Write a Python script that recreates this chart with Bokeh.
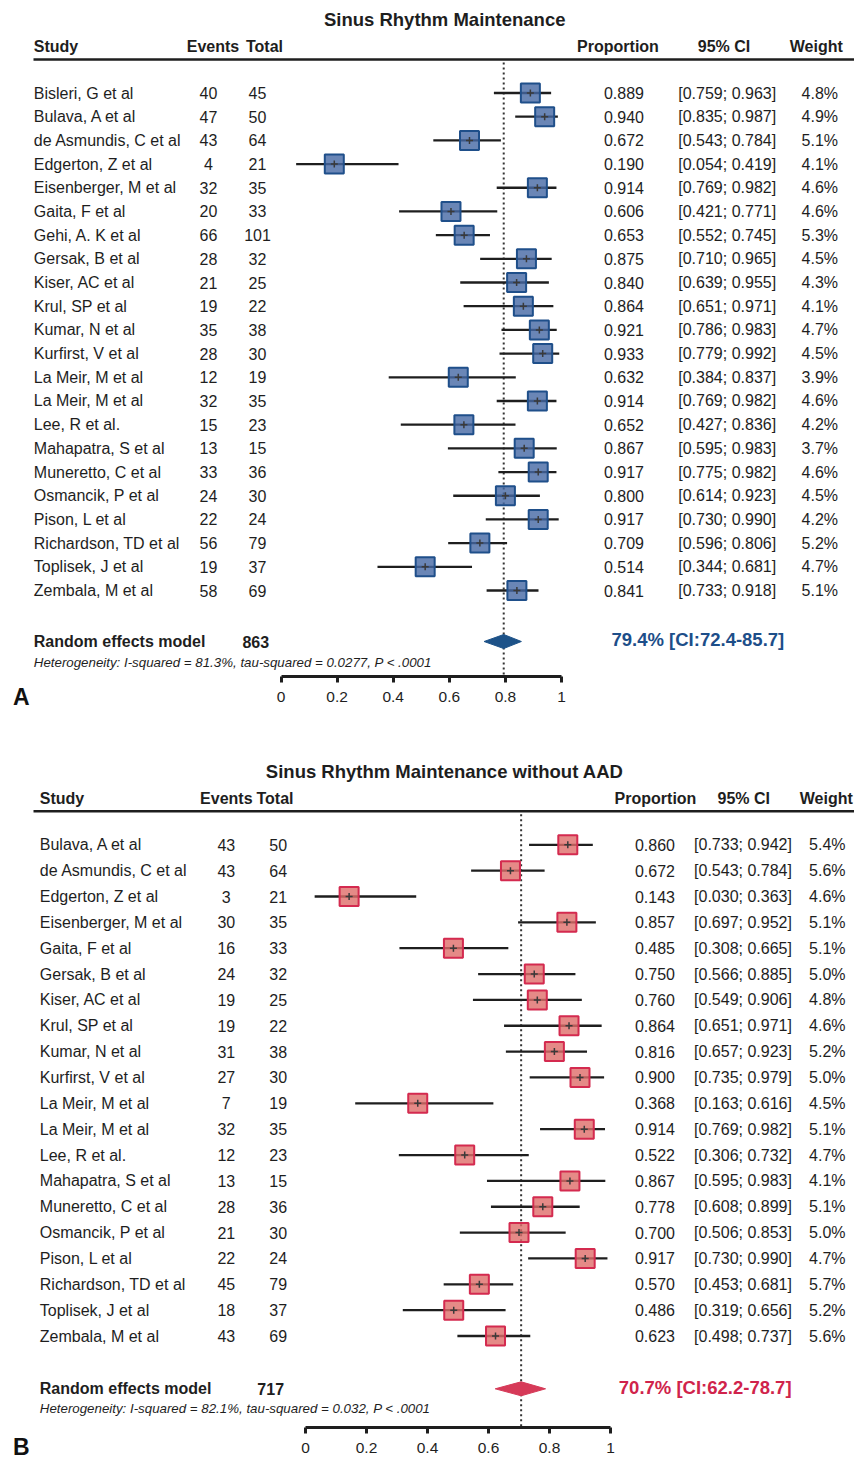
from bokeh.plotting import figure
from bokeh.models import Range1d, FixedTicker, Label
from bokeh.layouts import column
from bokeh.embed import file_html
from bokeh.resources import INLINE
from bokeh.core.properties import value

FONT = "Liberation Sans"
INK = "#1e1e1e"

# ---------------- Panel A data ----------------
title_a = "Sinus Rhythm Maintenance"
study_a = ["Bisleri, G et al", "Bulava, A et al", "de Asmundis, C et al", "Edgerton, Z et al",
           "Eisenberger, M et al", "Gaita, F et al", "Gehi, A. K et al", "Gersak, B et al",
           "Kiser, AC et al", "Krul, SP et al", "Kumar, N et al", "Kurfirst, V et al",
           "La Meir, M et al", "La Meir, M et al", "Lee, R et al.", "Mahapatra, S et al",
           "Muneretto, C et al", "Osmancik, P et al", "Pison, L et al", "Richardson, TD et al",
           "Toplisek, J et al", "Zembala, M et al"]
events_a = [40, 47, 43, 4, 32, 20, 66, 28, 21, 19, 35, 28, 12, 32, 15, 13, 33, 24, 22, 56, 19, 58]
total_a = [45, 50, 64, 21, 35, 33, 101, 32, 25, 22, 38, 30, 19, 35, 23, 15, 36, 30, 24, 79, 37, 69]
prop_a = [0.889, 0.940, 0.672, 0.190, 0.914, 0.606, 0.653, 0.875, 0.840, 0.864, 0.921, 0.933,
          0.632, 0.914, 0.652, 0.867, 0.917, 0.800, 0.917, 0.709, 0.514, 0.841]
lo_a = [0.759, 0.835, 0.543, 0.054, 0.769, 0.421, 0.552, 0.710, 0.639, 0.651, 0.786, 0.779,
        0.384, 0.769, 0.427, 0.595, 0.775, 0.614, 0.730, 0.596, 0.344, 0.733]
hi_a = [0.963, 0.987, 0.784, 0.419, 0.982, 0.771, 0.745, 0.965, 0.955, 0.971, 0.983, 0.992,
        0.837, 0.982, 0.836, 0.983, 0.982, 0.923, 0.990, 0.806, 0.681, 0.918]
weight_a = [4.8, 4.9, 5.1, 4.1, 4.6, 4.6, 5.3, 4.5, 4.3, 4.1, 4.7, 4.5, 3.9, 4.6, 4.2, 3.7,
            4.6, 4.5, 4.2, 5.2, 4.7, 5.1]
pooled_a = [0.794, 0.724, 0.857]
n_a = 863
summary_a = "79.4% [CI:72.4-85.7]"
het_a = "Heterogeneity: I-squared = 81.3%, tau-squared = 0.0277, P < .0001"

# ---------------- Panel B data ----------------
title_b = "Sinus Rhythm Maintenance without AAD"
study_b = ["Bulava, A et al", "de Asmundis, C et al", "Edgerton, Z et al", "Eisenberger, M et al",
           "Gaita, F et al", "Gersak, B et al", "Kiser, AC et al", "Krul, SP et al",
           "Kumar, N et al", "Kurfirst, V et al", "La Meir, M et al", "La Meir, M et al",
           "Lee, R et al.", "Mahapatra, S et al", "Muneretto, C et al", "Osmancik, P et al",
           "Pison, L et al", "Richardson, TD et al", "Toplisek, J et al", "Zembala, M et al"]
events_b = [43, 43, 3, 30, 16, 24, 19, 19, 31, 27, 7, 32, 12, 13, 28, 21, 22, 45, 18, 43]
total_b = [50, 64, 21, 35, 33, 32, 25, 22, 38, 30, 19, 35, 23, 15, 36, 30, 24, 79, 37, 69]
prop_b = [0.860, 0.672, 0.143, 0.857, 0.485, 0.750, 0.760, 0.864, 0.816, 0.900, 0.368, 0.914,
          0.522, 0.867, 0.778, 0.700, 0.917, 0.570, 0.486, 0.623]
lo_b = [0.733, 0.543, 0.030, 0.697, 0.308, 0.566, 0.549, 0.651, 0.657, 0.735, 0.163, 0.769,
        0.306, 0.595, 0.608, 0.506, 0.730, 0.453, 0.319, 0.498]
hi_b = [0.942, 0.784, 0.363, 0.952, 0.665, 0.885, 0.906, 0.971, 0.923, 0.979, 0.616, 0.982,
        0.732, 0.983, 0.899, 0.853, 0.990, 0.681, 0.656, 0.737]
weight_b = [5.4, 5.6, 4.6, 5.1, 5.1, 5.0, 4.8, 4.6, 5.2, 5.0, 4.5, 5.1, 4.7, 4.1, 5.1, 5.0,
            4.7, 5.7, 5.2, 5.6]
pooled_b = [0.707, 0.622, 0.787]
n_b = 717
summary_b = "70.7% [CI:62.2-78.7]"
het_b = "Heterogeneity: I-squared = 82.1%, tau-squared = 0.032, P < .0001"

tick_values = [0, 0.2, 0.4, 0.6, 0.8, 1]
tick_labels = ["0", "0.2", "0.4", "0.6", "0.8", "1"]

PAGE_W = 854
OFF = 0  # page offset of the figures


def build_panel(d, L):
    x0, x1 = L["x0"], L["x1"]
    s = x1 - x0
    r0, st = L["row0"], L["step"]

    def X(px):
        return (px - x0) / s

    def Y(py):
        return (py - r0) / st

    fig_h = L["fig_bottom"] - L["fig_top"]
    p = figure(width=PAGE_W, height=fig_h,
               x_range=Range1d(X(OFF), X(OFF + PAGE_W)),
               y_range=Range1d(Y(L["fig_bottom"]), Y(L["fig_top"])),
               output_backend="svg", toolbar_location=None,
               min_border_left=0, min_border_right=0, min_border_top=0,
               min_border_bottom=0,
               y_axis_location=None, outline_line_color=None,
               background_fill_color="white", border_fill_color="white")
    p.grid.visible = False

    def txt(xs, ys, texts, size, align, style="normal", color=INK):
        p.text(x=xs, y=ys, text=texts, text_font=value(FONT), text_font_size=size,
               text_align=align, text_baseline="middle", text_font_style=style,
               text_color=color)

    n = len(d["study"])
    ys = list(range(n))

    # title and headers
    txt([X(L["title_x"])], [Y(L["title_y"])], [d["title"]], "18.5px", "center", "bold")
    hy = Y(L["head_y"])
    txt([X(L["study_x"])], [hy], ["Study"], "16px", "left", "bold")
    txt([X(L["ev_head"])], [hy], ["Events"], "16px", "center", "bold")
    txt([X(L["tot_head"])], [hy], ["Total"], "16px", "center", "bold")
    txt([X(L["prop_head"])], [hy], ["Proportion"], "16px", "center", "bold")
    txt([X(L["ci_head"])], [hy], ["95% CI"], "16px", "center", "bold")
    txt([X(L["w_head"])], [hy], ["Weight"], "16px", "center", "bold")
    p.segment(x0=[X(L["line_x"])], y0=[Y(L["line_y"])], x1=[X(PAGE_W)], y1=[Y(L["line_y"])],
              line_color=INK, line_width=2.5)

    # study rows
    txt([X(L["study_x"])] * n, ys, d["study"], "16px", "left")
    txt([X(L["ev_x"])] * n, ys, [str(v) for v in d["events"]], "16px", "center")
    txt([X(L["tot_x"])] * n, ys, [str(v) for v in d["total"]], "16px", "center")
    txt([X(L["prop_x"])] * n, ys, [f"{v:.3f}" for v in d["prop"]], "16px", "right")
    txt([X(L["ci_x"])] * n, ys, [f"[{a:.3f}; {b:.3f}]" for a, b in zip(d["lo"], d["hi"])],
        "16px", "center")
    txt([X(L["w_x"])] * n, ys, [f"{w:.1f}%" for w in d["weight"]], "16px", "right")

    # reference dotted line at pooled estimate
    est, plo, phi = d["pooled"]
    p.segment(x0=[est], y0=[Y(L["line_y"] + 3)], x1=[est], y1=[Y(L["axis_y"])],
              line_color="#333333", line_width=2, line_dash="2 3")

    # CIs and squares
    p.segment(x0=d["lo"], y0=ys, x1=d["hi"], y1=ys, line_color=INK, line_width=2.3)
    p.scatter(x=d["prop"], y=ys, marker="square", size=19, fill_color=L["sq_fill"],
              fill_alpha=0.8, line_color=L["sq_line"], line_width=2)
    p.scatter(x=d["prop"], y=ys, marker="cross", size=7, line_color="#3a3a3a", line_width=1.5)

    # pooled row
    ry = Y(L["re_y"])
    h = 7.0 / st
    p.patch(x=[plo, est, phi, est], y=[ry, ry - h, ry, ry + h], fill_color=L["dia"],
            line_color=L["dia"], line_width=1)
    txt([X(L["study_x"])], [ry], ["Random effects model"], "16px", "left", "bold")
    txt([X(L["n_x"])], [ry], [str(d["n"])], "16px", "center", "bold")
    txt([X(L["sum_x"])], [Y(L["sum_y"])], [d["summary"]], "18.5px", "left", "bold", L["sum_col"])
    txt([X(L["study_x"])], [Y(L["het_y"])], [d["het"]], "13.3px", "left", "italic")

    # axis (kept in the bottom panel, drawn at a fixed location)
    ax = p.xaxis[0]
    ax.fixed_location = Y(L["axis_y"])
    ax.bounds = (0, 1)
    ax.ticker = FixedTicker(ticks=tick_values)
    ax.major_label_overrides = {v: lab for v, lab in zip(tick_values, tick_labels)}
    ax.axis_line_width = 3
    ax.axis_line_color = INK
    ax.major_tick_line_width = 3
    ax.major_tick_line_color = INK
    ax.major_tick_out = 6
    ax.major_tick_in = 0
    ax.minor_tick_line_color = None
    ax.major_label_standoff = L["standoff"]
    ax.major_label_text_font = FONT
    ax.major_label_text_font_size = "15.5px"
    ax.major_label_text_color = INK

    # panel letter
    p.add_layout(Label(x=X(12.5), y=Y(L["letter_y"]), text=L["letter"], text_font=FONT,
                       text_font_size="23px", text_font_style="bold", text_color="#111111",
                       text_align="left", text_baseline="middle"))
    return p


data_a = dict(title=title_a, study=study_a, events=events_a, total=total_a, prop=prop_a,
              lo=lo_a, hi=hi_a, weight=weight_a, pooled=pooled_a, n=n_a,
              summary=summary_a, het=het_a)
data_b = dict(title=title_b, study=study_b, events=events_b, total=total_b, prop=prop_b,
              lo=lo_b, hi=hi_b, weight=weight_b, pooled=pooled_b, n=n_b,
              summary=summary_b, het=het_b)

layout_a = dict(x0=280.5, x1=561, row0=92.5, step=(590 - 92.5) / 21, fig_top=0, fig_bottom=740,
                axis_y=676, title_x=444.2, title_y=18.5, head_y=45.5, line_y=59, line_x=33,
                study_x=33.3, ev_head=212.5, tot_head=264, prop_head=617.5, ci_head=723.5,
                w_head=815.8, ev_x=208, tot_x=257, prop_x=643.5, ci_x=726.7, w_x=837.5,
                re_y=641, n_x=255.3, sum_x=611, sum_y=639, het_y=662, letter="A",
                letter_y=696, standoff=9, sq_fill="#4568A4", sq_line="#1F4F8A",
                dia="#1D5288", sum_col="#1D4E89")
layout_b = dict(x0=305, x1=610, row0=844.3, step=(1335.5 - 844.3) / 19, fig_top=740,
                fig_bottom=1459, axis_y=1427, title_x=444.2, title_y=770.7, head_y=797.7,
                line_y=810.7, line_x=33, study_x=39.3, ev_head=225.8, tot_head=274.5,
                prop_head=655, ci_head=743.3, w_head=825.8, ev_x=225.8, tot_x=277.7,
                prop_x=674.5, ci_x=742.5, w_x=845, re_y=1388.3, n_x=270.2, sum_x=618.3,
                sum_y=1386.7, het_y=1407.5, letter="B", letter_y=1446, standoff=9,
                sq_fill="#DE6D69", sq_line="#D42A4F", dia="#D63A58", sum_col="#D0234B")

pa = build_panel(data_a, layout_a)
pb = build_panel(data_b, layout_b)
page = column(pa, pb)

open("out.html", "w").write(file_html(page, INLINE))
